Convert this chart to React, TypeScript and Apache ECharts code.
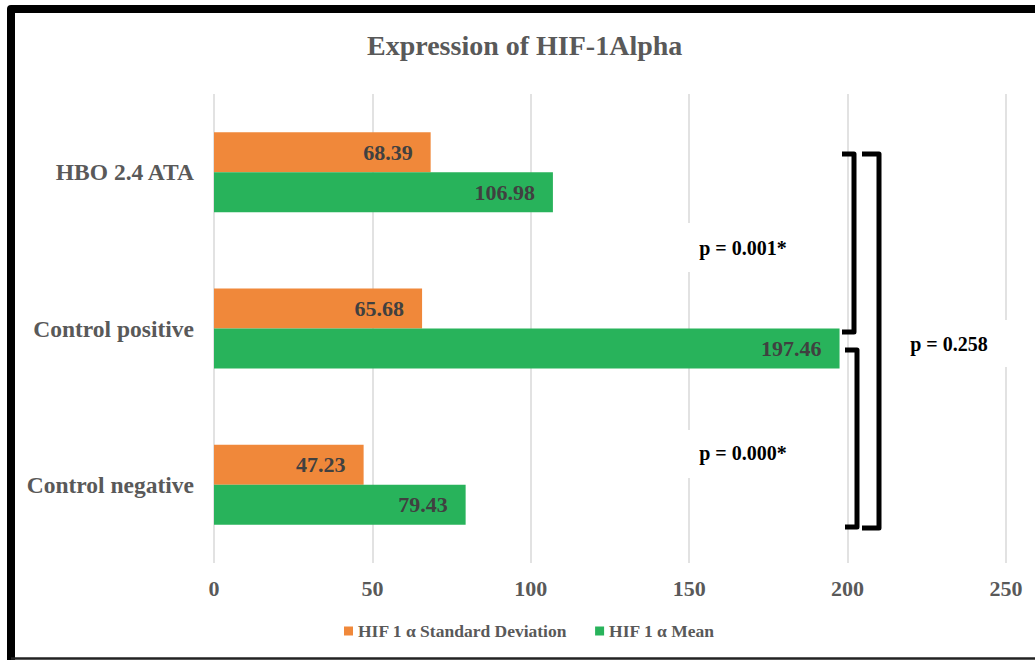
import React, { useEffect, useRef } from "react";
import * as echarts from "echarts";

const categories = ["HBO 2.4 ATA", "Control positive", "Control negative"];
const sdValues = [68.39, 65.68, 47.23];
const meanValues = [106.98, 197.46, 79.43];
const xTicks = [0, 50, 100, 150, 200, 250];
const seriesNames = ["HIF 1 α Standard Deviation", "HIF 1 α Mean"];
const pLabels = ["p = 0.001*", "p = 0.000*", "p = 0.258"];

const FONT = "'Liberation Serif', 'Times New Roman', serif";

export default function App() {
  const ref = useRef<HTMLDivElement>(null);
  useEffect(() => {
    if (!ref.current) return;
    const chart = echarts.init(ref.current, null, { renderer: "svg" });
    const bracket = (x0: number, xv: number, y0: number, y1: number) => ({
      type: "polyline",
      shape: { points: [[x0, y0], [xv, y0], [xv, y1], [x0, y1]] },
      style: { stroke: "#000", lineWidth: 5, fill: null, lineJoin: "round", lineCap: "butt" },
      z: 100,
    });
    const pText = (text: string, cx: number, cy: number, bx: number, bw: number, by: number, bh: number) => [
      { type: "rect", shape: { x: bx, y: by, width: bw, height: bh }, style: { fill: "#fff" }, z: 90 },
      {
        type: "text",
        x: cx,
        y: cy,
        style: { text, fill: "#000", font: `bold 20px ${FONT}`, align: "center", verticalAlign: "middle" },
        z: 95,
      },
    ];
    chart.setOption({
      animation: false,
      backgroundColor: "#fff",
      title: {
        text: "Expression of HIF-1Alpha",
        left: 367,
        top: 31,
        padding: 0,
        textStyle: { fontFamily: FONT, fontSize: 28, fontWeight: "bold", color: "#595959" },
      },
      legend: {
        data: seriesNames,
        left: 344,
        top: 622,
        padding: 0,
        itemWidth: 9,
        itemHeight: 9,
        itemGap: 28,
        icon: "rect",
        textStyle: { fontFamily: FONT, fontSize: 17.5, fontWeight: "bold", color: "#595959" },
      },
      grid: { left: 214, right: 29, top: 94, bottom: 97, containLabel: false },
      xAxis: {
        type: "value",
        min: xTicks[0],
        max: xTicks[xTicks.length - 1],
        interval: xTicks[1] - xTicks[0],
        axisLine: { show: false },
        axisTick: { show: false },
        splitLine: { show: true, lineStyle: { color: "#d9d9d9", width: 1.5 } },
        axisLabel: { margin: 14, fontFamily: FONT, fontSize: 22, fontWeight: "bold", color: "#595959" },
      },
      yAxis: {
        type: "category",
        data: categories,
        inverse: true,
        axisLine: { show: false },
        axisTick: { show: false },
        axisLabel: { margin: 20, fontFamily: FONT, fontSize: 23.5, fontWeight: "bold", color: "#595959" },
      },
      series: [
        {
          name: seriesNames[0],
          type: "bar",
          data: sdValues,
          barWidth: 40,
          barGap: "0%",
          itemStyle: { color: "#F0883A" },
          label: {
            show: true,
            position: "insideRight",
            distance: 18,
            fontFamily: FONT,
            fontSize: 22,
            fontWeight: "bold",
            color: "#404040",
            formatter: (p: any) => p.value.toFixed(2),
          },
        },
        {
          name: seriesNames[1],
          type: "bar",
          data: meanValues,
          barWidth: 40,
          barGap: "0%",
          itemStyle: { color: "#28B35B" },
          label: {
            show: true,
            position: "insideRight",
            distance: 18,
            fontFamily: FONT,
            fontSize: 22,
            fontWeight: "bold",
            color: "#404040",
            formatter: (p: any) => p.value.toFixed(2),
          },
        },
      ],
      graphic: [
        {
          type: "polyline",
          shape: { points: [[1040, 9], [11, 9], [11, 665]] },
          style: { stroke: "#000", lineWidth: 8, fill: null, lineJoin: "round" },
          z: 100,
        },
        {
          type: "line",
          shape: { x1: 11, y1: 658.5, x2: 1040, y2: 658.5 },
          style: { stroke: "#222", lineWidth: 2.5 },
          z: 100,
        },
        bracket(842, 854, 154, 332),
        bracket(845, 857, 350, 527),
        bracket(862, 879, 154, 528),
        ...pText(pLabels[0], 743, 248, 680, 125, 223, 49),
        ...pText(pLabels[1], 743, 453, 680, 125, 430, 48),
        ...pText(pLabels[2], 949, 344, 895, 120, 320, 47),
      ],
    });
    return () => chart.dispose();
  }, []);
  return <div ref={ref} style={{ position: "absolute", left: 0, top: 0, width: 1035, height: 660 }} />;
}
